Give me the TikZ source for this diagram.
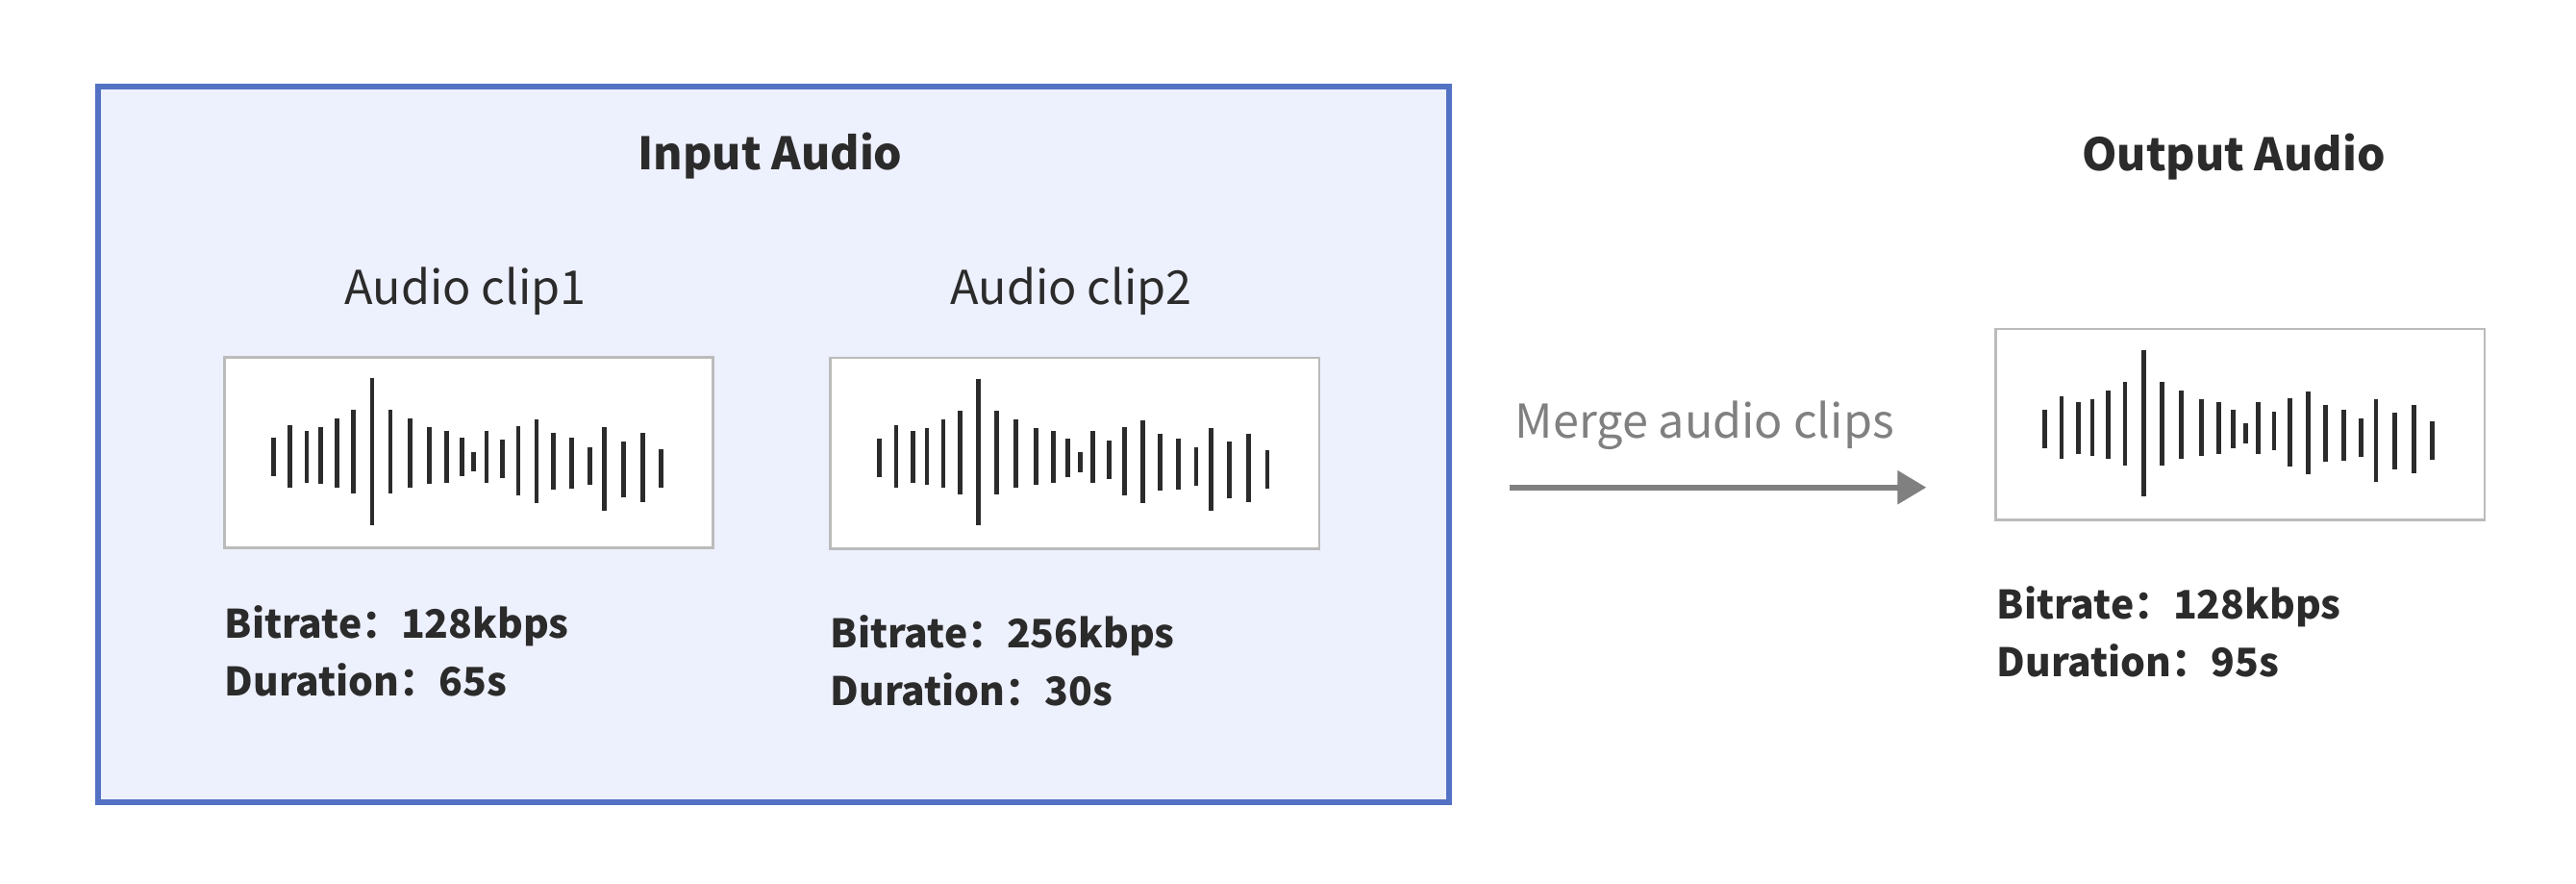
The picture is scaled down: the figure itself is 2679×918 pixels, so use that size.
\documentclass[tikz,border=0pt]{standalone}
\usepackage{fontspec}
\setmainfont{Noto Sans CJK SC}
\usetikzlibrary{arrows.meta}
\definecolor{inblue}{HTML}{5472C4}
\definecolor{infill}{HTML}{EDF0FD}
\definecolor{boxgray}{HTML}{BBBBBB}
\definecolor{ink}{HTML}{2B2B2B}
\definecolor{arrowgray}{HTML}{808080}
\tikzset{
  title/.style={anchor=base, inner sep=0, text=ink, font=\fontsize{13.2}{16}\selectfont\bfseries},
  cliplabel/.style={anchor=base, inner sep=0, text=ink, font=\fontsize{13.8}{16}\selectfont},
  info/.style={anchor=base west, inner sep=0, text=ink, font=\fontsize{11.6}{15}\selectfont\bfseries},
  wavebox/.style={draw=boxgray, line width=0.77pt, fill=white, anchor=north west, inner sep=0,
    minimum width=5.08cm, minimum height=1.98cm},
  bar/.style={draw=ink, line width=1.35pt},
  flow/.style={draw=arrowgray, line width=1.7pt, -{Triangle[length=0.3cm, width=0.34cm]}},
}
\newcommand{\wavebars}[1]{%
  \begin{scope}[shift={(#1.north west)}, xscale=1.014]
    \foreach \a/\t/\b in {51.7/85/125, 68.7/71.7/136.7, 86/77.7/131.7, 100.3/74.3/133.3,
      117/65.3/136.7, 134/56.3/143, 153/23/175.7, 171.7/56.3/143, 191.7/65.3/136.7,
      212/74.3/133.3, 229.7/77.7/131.7, 245/85/125, 257.3/99.7/120, 270.3/77.7/131.7,
      286.7/87.3/127.3, 303/73.3/144.7, 321.7/66.3/152.7, 339.3/80/139.3, 358/85/138.3,
      376.3/94.7/134.3, 391.3/74.3/160.7, 410.7/88.7/147.3, 430.3/80/151.7, 449.3/97/137.3}
      {\draw[bar] (\a,\t) -- (\a,\b);}
  \end{scope}}
\begin{document}
\begin{tikzpicture}[x=0.01cm, y=-0.01cm]
\useasboundingbox (0,0) rectangle (2679,918);
% input group
\node[draw=inblue, fill=infill, line width=1.7pt, anchor=north west, inner sep=0,
  minimum width=14.04cm, minimum height=7.435cm] (inbox) at (99,87) {};
\node[title] (intitle) at (801,176.7) {Input Audio};
\node[cliplabel] (c1label) at (484,316.7) {Audio clip1};
\node[cliplabel] (c2label) at (1114,316.7) {Audio clip2};
\node[wavebox] (w1) at (231.8,370) {};
\node[wavebox] (w2) at (862.4,370.7) {};
\wavebars{w1}
\wavebars{w2}
\node[info] (b1) at (233,663.3) {Bitrate：128kbps};
\node[info] (d1) at (233,723.3) {Duration：65s};
\node[info] (b2) at (863,673) {Bitrate：256kbps};
\node[info] (d2) at (863,733) {Duration：30s};
% output
\node[title] (outtitle) at (2323,177.3) {Output Audio};
\node[wavebox] (w3) at (2074.2,340.7) {};
\wavebars{w3}
\node[info] (b3) at (2076,643.3) {Bitrate：128kbps};
\node[info] (d3) at (2076,703.3) {Duration：95s};
% arrow
\coordinate (astart) at (1570,506.7);
\coordinate (aend) at (2003.3,506.7);
\draw[flow] (astart) -- (aend);
\node[anchor=base west, inner sep=0, text=arrowgray, font=\fontsize{13.8}{16}\selectfont] (merge) at (1575,455) {Merge audio clips};
\end{tikzpicture}
\end{document}
